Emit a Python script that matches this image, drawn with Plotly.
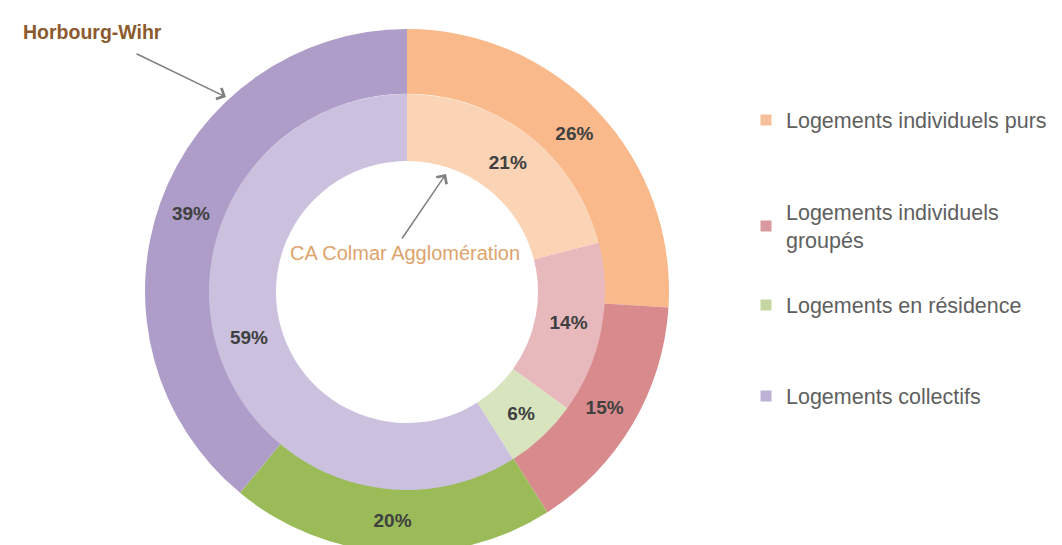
import plotly.graph_objects as go

W, H = 1062, 545

categories = ["Logements individuels purs", "Logements individuels groupés",
              "Logements en résidence", "Logements collectifs"]
legend_labels = ["Logements individuels purs", "Logements individuels<br>groupés",
                 "Logements en résidence", "Logements collectifs"]
horbourg_values = [26, 15, 20, 39]   # outer ring
colmar_values = [21, 14, 6, 59]      # inner ring

outer_colors = ["#F9B98A", "#D98A8D", "#9BBB59", "#AE9DC8"]
inner_colors = ["#FBD3B5", "#E7B8BC", "#D7E4BD", "#CBC1DF"]
legend_colors = ["#F6C19A", "#D99A9D", "#C5D6A2", "#BDB2D6"]

cx, cy = 399, 284
r_out, r_mid, r_in = 263, 198, 131


def dom_x(r):
    return [max(0, (cx - r) / W), min(1, (cx + r) / W)]


def dom_y(r):
    return [max(0, 1 - (cy + r) / H), min(1, 1 - (cy - r) / H)]


text_font = dict(family="Liberation Sans", size=19, color="#404040", weight="bold")

fig = go.Figure()
fig.add_trace(go.Pie(
    labels=categories, values=horbourg_values, sort=False, direction="clockwise",
    rotation=0, hole=r_mid / r_out, marker=dict(colors=outer_colors),
    texttemplate="%{value}%", textposition="inside", insidetextorientation="horizontal",
    textfont=text_font, showlegend=False, name="Horbourg-Wihr",
    domain=dict(x=dom_x(r_out), y=dom_y(r_out)),
))
fig.add_trace(go.Pie(
    labels=categories, values=colmar_values, sort=False, direction="clockwise",
    rotation=0, hole=r_in / r_mid, marker=dict(colors=inner_colors),
    texttemplate="%{value}%", textposition="inside", insidetextorientation="horizontal",
    textfont=text_font, showlegend=False, name="CA Colmar Agglomération",
    domain=dict(x=dom_x(r_mid), y=dom_y(r_mid)),
))

# legend entries, each in its own legend box to reproduce the spacing
legend_ys = [112, 218, 297, 388]
legend_names = ["legend", "legend2", "legend3", "legend4"]
for lab, col, lg in zip(legend_labels, legend_colors, legend_names):
    fig.add_trace(go.Scatter(
        x=[None], y=[None], mode="markers", name=lab, legend=lg,
        marker=dict(symbol="square", size=11, color=col),
    ))

legend_common = dict(
    x=738 / W, xanchor="left", yanchor="middle", bgcolor="rgba(0,0,0,0)",
    font=dict(family="Liberation Sans", size=21.5, color="#5F5F5F"),
    itemwidth=30, borderwidth=0,
)
layout_legends = {}
for lg, yy in zip(legend_names, legend_ys):
    layout_legends[lg] = dict(y=1 - yy / H, **legend_common)

fig.update_layout(
    width=W, height=H, margin=dict(l=0, r=0, t=0, b=0),
    paper_bgcolor="white", plot_bgcolor="white",
    xaxis=dict(visible=False), yaxis=dict(visible=False),
    **layout_legends,
)

# series name labels with arrows
fig.add_annotation(
    x=84 / W, y=1 - 24 / H, xref="paper", yref="paper", text="Horbourg-Wihr",
    xanchor="center", yanchor="middle",
    showarrow=False, font=dict(family="Liberation Sans", size=19.5, color="#8B5A2E", weight="bold"),
)
fig.add_annotation(
    x=218 / W, y=1 - 89 / H, xref="paper", yref="paper", text="",
    showarrow=True, ax=-91, ay=-44, arrowhead=4, arrowsize=1.6, arrowwidth=1.5,
    arrowcolor="#7F7F7F",
)
fig.add_annotation(
    x=397 / W, y=1 - 245 / H, xref="paper", yref="paper", text="CA Colmar Agglomération",
    xanchor="center", yanchor="middle",
    showarrow=False, font=dict(family="Liberation Sans", size=20, color="#DDA36C"),
)
fig.add_annotation(
    x=438 / W, y=1 - 166 / H, xref="paper", yref="paper", text="",
    showarrow=True, ax=-45, ay=66, arrowhead=4, arrowsize=1.6, arrowwidth=1.5,
    arrowcolor="#7F7F7F",
)

fig.write_html("out.html")
